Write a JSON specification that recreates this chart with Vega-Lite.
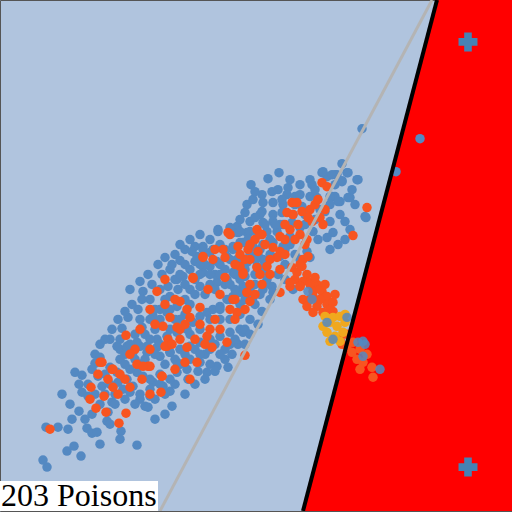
{
 "$schema": "https://vega.github.io/schema/vega-lite/v6.json",
 "width": 512, "height": 512,
 "autosize": {"type": "fit", "contains": "padding"},
 "padding": 0,
 "background": "#b0c4de",
 "config": {"view": {"stroke": "#555555", "strokeWidth": 1, "fill": "#b0c4de"}},
 "datasets": {
  "blue": [[47,468],[43,461],[67,452],[74,447],[81,457],[46,428],[58,428],[87,429],[92,434],[97,433],[79,412],[107,422],[121,432],[137,446],[75,373],[82,376],[79,385],[82,393],[88,397],[95,364],[98,377],[102,387],[112,403],[108,413],[118,383],[123,390],[130,393],[140,400],[145,407],[148,408],[150,397],[172,407],[170,392],[110,368],[117,373],[120,350],[127,347],[133,353],[140,347],[147,353],[157,348],[170,353],[177,363],[137,373],[143,377],[153,383],[163,387],[133,387],[127,380],
   [180,261],[143,292],[168,287],[178,290],[170,297],[122,329],[142,328],[153,317],[160,310],[167,313],[177,307],[185,300],[190,290],[195,280],[200,287],[203,273],[210,267],[217,262],[195,247],[203,247],[210,253],[197,257],[233,250],[240,243],[218,230],[238,233],[247,233],[117,347],[127,350],[137,343],[147,347],[157,340],[167,337],[177,333],[187,330],[193,323],[200,317],[207,313],[213,310],[220,307],[227,300],[233,297],[240,293],[247,290],[160,357],[170,353],[180,350],[190,347],[200,343],[210,340],[220,337],[230,333],[240,330],[217,367],[200,363],[187,370],[177,373],[207,373],[183,277],[177,280],[217,283],[227,280],[233,273],[240,267],[247,260],[227,257],[238,345],[243,333],
   [279,173],[251,185],[268,179],[272,192],[278,190],[288,188],[287,195],[295,197],[310,180],[312,185],[322,173],[327,177],[337,175],[347,173],[342,182],[358,180],[247,205],[253,200],[263,203],[273,203],[283,205],[295,205],[302,207],[310,197],[317,198],[332,197],[340,202],[350,198],[245,213],[262,212],[273,215],[282,213],[293,215],[325,212],[345,222],[365,217],[237,227],[250,222],[263,223],[273,222],[283,225],[292,223],[330,222],[333,233],[318,240],[327,238],[338,245],[233,233],[240,232],[250,232],[258,235],[267,232],[277,232],[313,232],[310,258],[300,260],[307,252],[233,247],[243,243],[253,247],[263,245],[273,243],[263,260],[272,257],[280,257],[283,247],[263,272],[257,267],[247,263],[237,260],[235,273],[245,277],[267,280],[272,287],[263,290],[255,285],[243,287],[237,293],[253,298],[273,293],
   [362,129],[420,139],[396,172],[342,164],[348,173],[335,175],[342,181],[357,180],[348,198],[335,197],[323,172],[332,175],[338,202],[330,197],[230,228],[218,232],[203,250],[213,250],[225,250],[366,218],
   [150,300],[155,310],[160,320],[165,300],[170,310],[175,320],[185,315],[190,305],[195,295],[205,295],[210,285],[215,275],[220,265],[225,270],[230,260],[235,275],[240,280],[245,270],[250,255],[255,260],[260,250],[170,270],[175,280],[185,285],[160,290],[150,320],[145,335],[155,330],[140,320],[135,335],[130,345],[125,355],[120,360],[135,360],[145,360],[155,355],[165,365],[175,360],[185,355],[195,350],[205,355],[215,345],[225,350],[230,345],[130,370],[140,395],[115,395],[110,385],[105,375],[95,355],[100,345],[110,340],[120,340],[128,318],[138,310],[200,275],[190,270],[180,275],[185,265],[195,262],[205,265],[215,290],[225,285],[235,290],[245,300],[250,290],[255,305],[260,295],[265,285],[220,320],[230,320],[240,315],[250,320],[245,330],[235,340],[225,360],[210,365],[198,372],[188,380],[175,385],[160,385],[150,380],[165,395],[155,400],[200,235],[210,240],[220,245],[190,240],[185,250],[175,255],[165,258],[158,265],[148,275],[140,282],[130,290],[260,215],[265,225],[255,218],[270,240],[280,225],[290,245],[295,255],[285,265],
   [105,395],[115,405],[125,400],[135,405],[150,390],[160,375],[170,380],[180,365],[190,360],[200,355],[210,350],[220,355],[125,365],[140,365],[150,340],[160,345],[170,330],[180,320],[190,335],[200,330],[210,320],[220,310],[230,300],[240,305],[250,295],[255,275],[265,265],[270,255],[285,250],[290,237],[300,228],[305,225],[315,220],[320,210],[330,205],[300,195],[290,180],[300,185],[262,195],[255,192],[240,220],[248,240],[258,255],[230,285],[220,275],[210,275],[200,265],[192,252],[180,245],[172,265],[162,275],[152,285],[142,300],[132,305],[125,312],[118,320],[112,330],[105,340],[100,358],[92,370],[88,385],[95,395],[100,405],[92,415],[85,420],[68,430],[72,420],[110,425],[120,440],[100,445],[62,395],[70,405],[155,420],[165,415],[185,395],[195,385],[205,380],[215,372],[228,368],[232,355],[245,345],[250,335],[258,325],[262,312],[270,300],[278,275],[285,280],[293,290],[275,225],[282,200],[305,215],[315,190],[335,185],[352,190],[355,205],[340,215],[350,230],[345,240],[330,250]],
  "red": [[50,430],[100,363],[91,388],[96,409],[106,413],[126,414],[119,424],[112,370],[113,388],[104,397],[125,380],[130,388],[142,380],[148,367],[162,377],[161,393],[167,347],[137,365],
   [157,292],[126,336],[193,279],[203,257],[213,260],[223,250],[225,278],[208,290],[180,302],[187,310],[163,327],[177,328],[180,330],[168,340],[165,347],[172,345],[187,348],[207,337],[212,348],[227,343],[237,313],[245,356],[197,363],[185,363],[150,367],[143,367],[162,377],[113,370],[102,363],[228,233],[243,273],[233,300],[215,320],[200,308],[247,293],
   [322,183],[327,187],[367,208],[353,236],[292,203],[297,203],[302,212],[310,210],[315,205],[318,200],[287,213],[293,215],[308,218],[320,218],[323,225],[298,225],[290,230],[300,235],[307,240],[257,230],[262,235],[255,240],[280,237],[285,240],[273,248],[280,252],[277,258],[230,235],[238,247],[248,250],[258,252],[250,260],[240,267],[257,268],[267,267],[243,275],[280,293],[247,293],[235,300],[250,302],[292,268],[297,273],[302,267],[307,275],[295,280],[303,282],[310,283],[317,285],[313,292],[322,292],[325,298],[318,302],[310,300],[330,303],[307,303],[300,287],[290,287],[303,260],[308,257],
   [290,283],[300,287],[310,285],[320,290],[327,297],[313,297],[303,300],[317,307],[327,305],[333,303],[307,307],[323,313],[313,313],[333,312],[340,340],[347,347],[353,343],[360,350],[352,353],[357,360],[363,363],[360,370],[372,368],[373,378],[367,355],[347,335],[342,345],
   [260,235],[203,258],[193,278],[155,325],[170,318],[190,318],[200,325],[210,330],[175,300],[165,280],[220,295],[230,310],[250,285],[260,275],[245,260],[235,265],[135,350],[150,350],[120,375],
   [140,330],[150,310],[165,305],[185,325],[195,340],[205,345],[220,330],[235,320],[245,310],[255,295],[262,285],[270,260],[265,245],[250,245],[240,255],[225,258],[215,250],[180,340],[130,355],[118,395],[108,380],[98,375],[90,400],[150,395],[175,370],[190,380],[285,225],[295,240],[305,245],[312,222],[325,210],[270,275],[285,255],[300,265],[280,270],[315,278],[325,285],[335,295],[330,310],[320,300]],
  "gold": [[325,317],[333,318],[340,317],[330,323],[337,327],[345,323],[327,333],[335,337],[343,333],[330,342],[340,342],[345,315],[323,327]],
  "bluetop": [[308,292],[312,300],[327,323],[333,340],[347,318],[363,342],[365,345],[358,343],[363,357],[380,370]]
 },
 "layer": [
  {
   "data": {"values": [{"x": 303, "x2": 512, "y": 512}, {"x": 437, "x2": 512, "y": 0}]},
   "mark": {"type": "area", "orient": "horizontal", "color": "#ff0000", "clip": true},
   "encoding": {
    "y": {"field": "y", "type": "quantitative", "scale": {"domain": [0, 512], "reverse": true, "nice": false, "zero": false}, "axis": null},
    "x": {"field": "x", "type": "quantitative", "scale": {"domain": [0, 512], "nice": false, "zero": false}, "axis": null},
    "x2": {"field": "x2"}
   }
  },
  {
   "data": {"name": "blue"},
   "transform": [{"calculate": "datum[0]", "as": "px"}, {"calculate": "datum[1]", "as": "py"}],
   "mark": {"type": "circle", "size": 90, "opacity": 1, "color": "#5489c2"},
   "encoding": {
    "x": {"field": "px", "type": "quantitative", "axis": null},
    "y": {"field": "py", "type": "quantitative", "axis": null}
   }
  },
  {
   "data": {"name": "red"},
   "transform": [{"calculate": "datum[0]", "as": "px"}, {"calculate": "datum[1]", "as": "py"}],
   "mark": {"type": "circle", "size": 90, "opacity": 1, "color": "#f85520"},
   "encoding": {
    "x": {"field": "px", "type": "quantitative", "axis": null},
    "y": {"field": "py", "type": "quantitative", "axis": null}
   }
  },
  {
   "data": {"name": "gold"},
   "transform": [{"calculate": "datum[0]", "as": "px"}, {"calculate": "datum[1]", "as": "py"}],
   "mark": {"type": "circle", "size": 90, "opacity": 1, "color": "#f0a81e"},
   "encoding": {
    "x": {"field": "px", "type": "quantitative", "axis": null},
    "y": {"field": "py", "type": "quantitative", "axis": null}
   }
  },
  {
   "data": {"name": "bluetop"},
   "transform": [{"calculate": "datum[0]", "as": "px"}, {"calculate": "datum[1]", "as": "py"}],
   "mark": {"type": "circle", "size": 90, "opacity": 0.85, "color": "#5489c2"},
   "encoding": {
    "x": {"field": "px", "type": "quantitative", "axis": null},
    "y": {"field": "py", "type": "quantitative", "axis": null}
   }
  },
  {
   "data": {"values": [{"x": 160, "y": 512}, {"x": 432, "y": 0}]},
   "mark": {"type": "line", "color": "#b4b4b4", "strokeWidth": 3, "clip": true},
   "encoding": {
    "x": {"field": "x", "type": "quantitative", "axis": null},
    "y": {"field": "y", "type": "quantitative", "axis": null}
   }
  },
  {
   "data": {"values": [{"x": 303, "y": 512}, {"x": 437, "y": 0}]},
   "mark": {"type": "line", "color": "#000000", "strokeWidth": 4, "clip": true},
   "encoding": {
    "x": {"field": "x", "type": "quantitative", "axis": null},
    "y": {"field": "y", "type": "quantitative", "axis": null}
   }
  },
  {
   "data": {"values": [{"x": 468, "y": 42}, {"x": 468, "y": 468}]},
   "mark": {"type": "point", "shape": "cross", "filled": true, "size": 360, "opacity": 1, "color": "#4682b4"},
   "encoding": {
    "x": {"field": "x", "type": "quantitative", "axis": null},
    "y": {"field": "y", "type": "quantitative", "axis": null}
   }
  },
  {
   "data": {"values": [{"x": 0, "x2": 158, "y": 482, "y2": 512}]},
   "mark": {"type": "rect", "color": "#ffffff"},
   "encoding": {
    "x": {"field": "x", "type": "quantitative", "axis": null},
    "x2": {"field": "x2"},
    "y": {"field": "y", "type": "quantitative", "axis": null},
    "y2": {"field": "y2"}
   }
  },
  {
   "data": {"values": [{"x": 1, "y": 507, "label": "203 Poisons"}]},
   "mark": {"type": "text", "font": "Liberation Serif", "fontSize": 32, "align": "left", "baseline": "alphabetic", "color": "#000000"},
   "encoding": {
    "x": {"field": "x", "type": "quantitative", "axis": null},
    "y": {"field": "y", "type": "quantitative", "axis": null},
    "text": {"field": "label"}
   }
  }
 ]
}
